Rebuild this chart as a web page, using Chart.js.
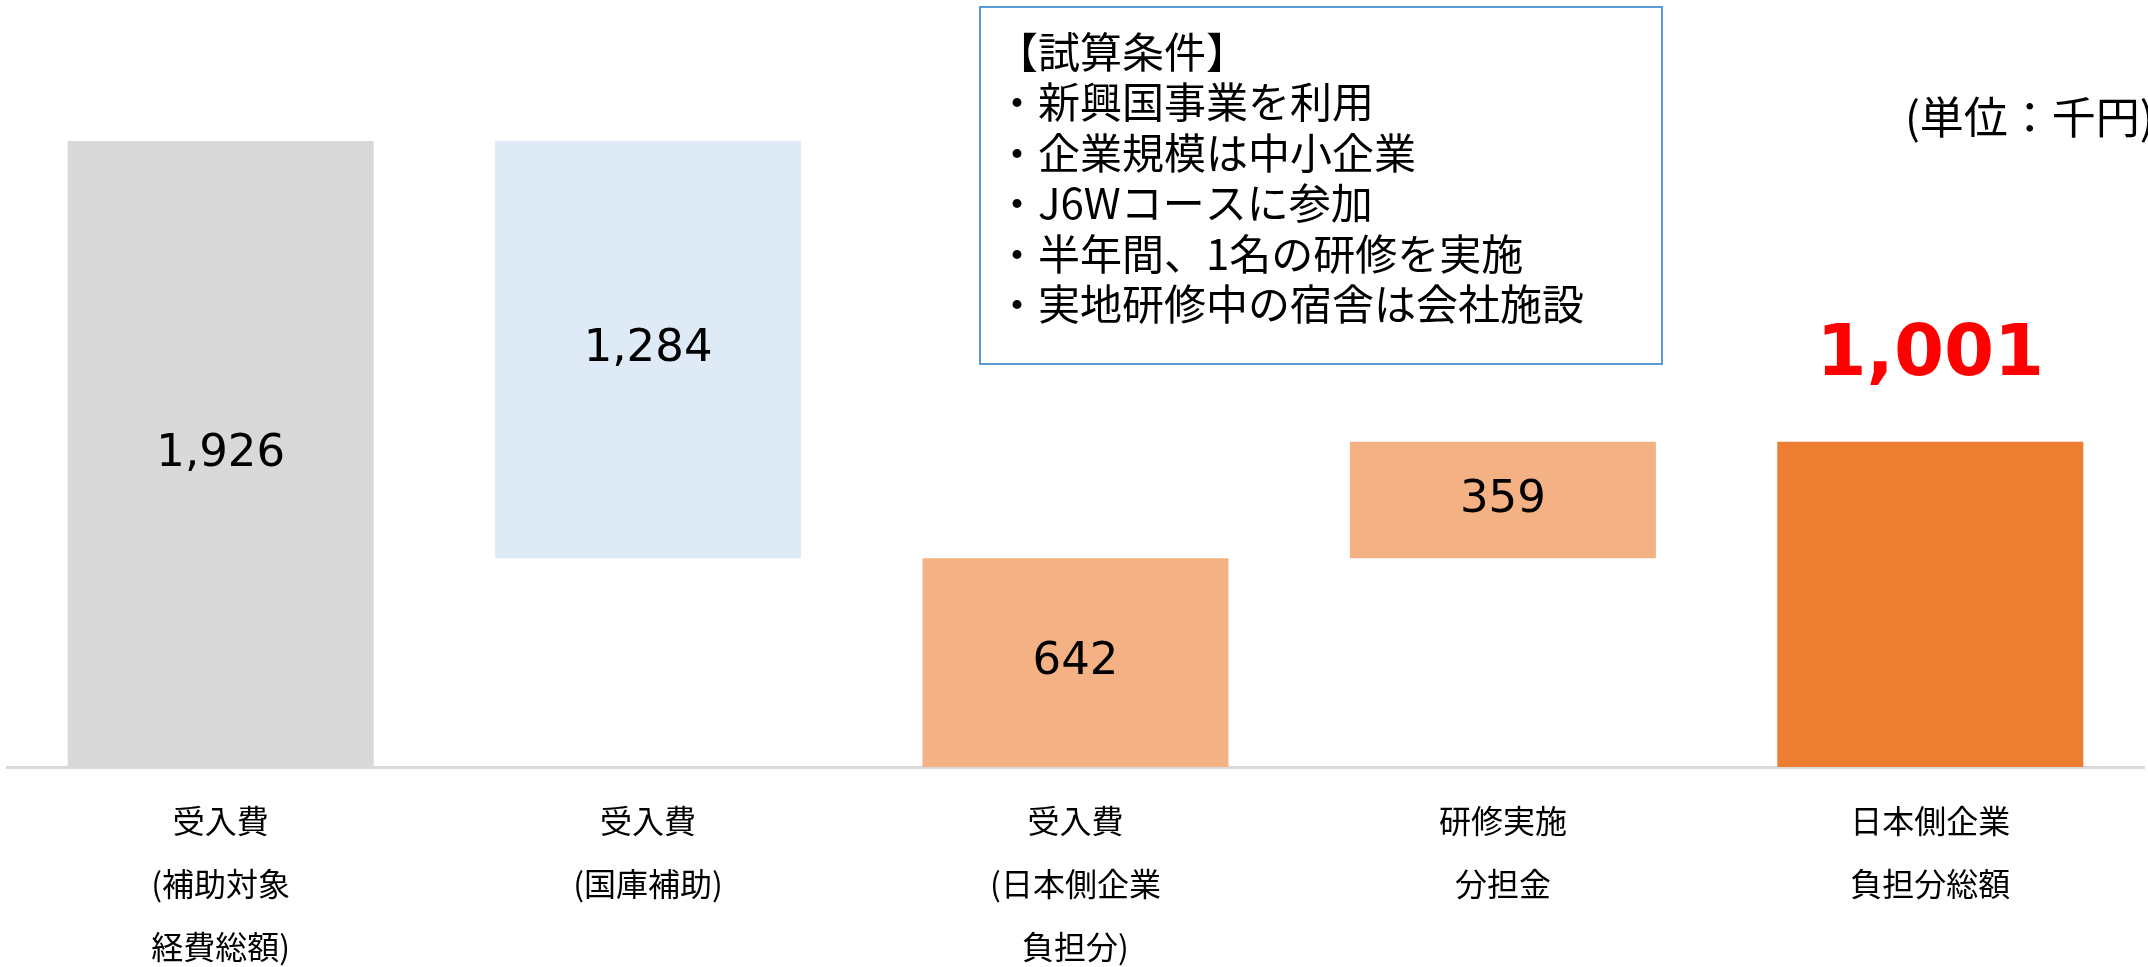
<!DOCTYPE html>
<html lang="ja">
<head>
<meta charset="utf-8">
<title>受入費と日本側企業負担分</title>
<script src="https://cdn.jsdelivr.net/npm/chart.js@4.4.1/dist/chart.umd.min.js"></script>
<style>
  html, body { margin: 0; padding: 0; background: #fff; overflow: hidden; }
  #wrap { position: relative; width: 2148px; height: 967px; }
</style>
</head>
<body>
<div id="wrap"><canvas id="chart"></canvas></div>
<script>
// categories (multi-line axis labels)
const categories = [
  ['受入費', '(補助対象', '経費総額)'],
  ['受入費', '(国庫補助)'],
  ['受入費', '(日本側企業', '負担分)'],
  ['研修実施', '分担金'],
  ['日本側企業', '負担分総額']
];
// floating bar start / end (千円)
const barStart = [0, 642, 0, 642, 0];
const barEnd = [1926, 1926, 642, 1001, 1001];
const barColors = ['#d9d9d9', '#deebf7', '#f4b183', '#f4b183', '#ed7d31'];
const totalIndex = 4;

const conditions = [
  '【試算条件】',
  '・新興国事業を利用',
  '・企業規模は中小企業',
  '・J6Wコースに参加',
  '・半年間、1名の研修を実施',
  '・実地研修中の宿舎は会社施設'
];
const unitLabel = '(単位：千円)';

const JP = '"Noto Sans CJK JP", "Noto Sans", sans-serif';

// value labels in / above the bars
const valueLabels = {
  id: 'valueLabels',
  afterDatasetsDraw(chart) {
    const ctx = chart.ctx;
    const meta = chart.getDatasetMeta(0);
    ctx.save();
    ctx.textAlign = 'center';
    ctx.textBaseline = 'middle';
    meta.data.forEach((bar, i) => {
      const txt = (barEnd[i] - barStart[i]).toLocaleString('en-US');
      if (i === totalIndex) {
        ctx.font = 'bold 72px "DejaVu Sans", sans-serif';
        ctx.fillStyle = '#ff0000';
        ctx.fillText(txt, bar.x, Math.min(bar.y, bar.base) - 85);
      } else {
        ctx.font = '45px "DejaVu Sans", sans-serif';
        ctx.fillStyle = '#000';
        ctx.fillText(txt, bar.x, (bar.y + bar.base) / 2);
      }
    });
    ctx.restore();
  }
};

// conditions box and unit note
const notes = {
  id: 'notes',
  afterDraw(chart) {
    const ctx = chart.ctx;
    ctx.save();
    ctx.strokeStyle = '#5b9bd5';
    ctx.lineWidth = 2;
    ctx.strokeRect(980, 7, 682, 357);
    ctx.fillStyle = '#000';
    ctx.textAlign = 'left';
    ctx.textBaseline = 'middle';
    ctx.font = '42px ' + JP;
    conditions.forEach((line, i) => {
      ctx.fillText(line, 996, 52 + i * 50.5);
    });
    ctx.font = '44px ' + JP;
    ctx.fillText(unitLabel, 1905, 117);
    ctx.restore();
  }
};

new Chart(document.getElementById('chart'), {
  type: 'bar',
  data: {
    labels: categories,
    datasets: [{
      data: barStart.map((s, i) => [s, barEnd[i]]),
      backgroundColor: barColors,
      borderWidth: 0,
      barPercentage: 0.716,
      categoryPercentage: 1
    }]
  },
  options: {
    responsive: true,
    maintainAspectRatio: false,
    animation: false,
    layout: { padding: { left: 7, right: 4, top: 0, bottom: 0 } },
    plugins: { legend: { display: false }, tooltip: { enabled: false } },
    scales: {
      x: {
        grid: { display: false, drawTicks: false },
        border: { display: true, color: '#d9d9d9', width: 3 },
        ticks: {
          color: '#000',
          padding: 22,
          maxRotation: 0,
          autoSkip: false,
          font: { family: JP, size: 32, lineHeight: '63px' }
        },
        afterFit(scale) { scale.height = 200; }
      },
      y: { display: false, min: 0, max: 2360 }
    }
  },
  plugins: [valueLabels, notes]
});
</script>
</body>
</html>
